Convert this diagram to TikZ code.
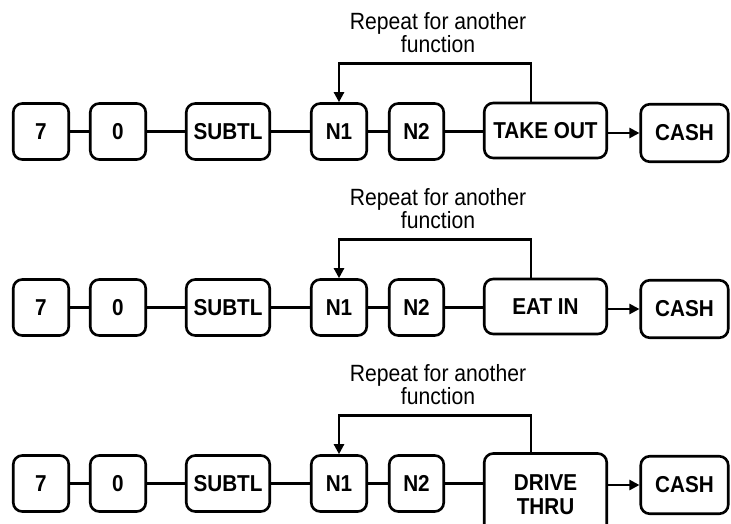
\documentclass[tikz,border=0pt]{standalone}
\usepackage{fontspec}
\setmainfont{Liberation Sans}[FakeStretch=0.9]
\usetikzlibrary{arrows.meta}
\tikzset{
  key/.style={draw, line width=2.6pt, rounded corners=9pt, inner sep=0pt,
    font=\bfseries\fontsize{23}{24}\selectfont, align=center,
    minimum height=56pt},
  link/.style={line width=2.3pt},
  flow/.style={line width=2.3pt, -{Triangle[length=10pt,width=10pt]}},
  note/.style={align=center, inner sep=0pt,
    font=\fontsize{23.5}{21}\selectfont},
}
\begin{document}
\begin{tikzpicture}[x=1pt,y=-1pt]
\useasboundingbox (0,0) rectangle (731,523);
\foreach \r/\dy/\lbl/\fy/\fh in {1/0/TAKE OUT/130.5/55,2/176/EAT IN/130.5/55,3/352/{DRIVE\\THRU}/143/83}{
  \begin{scope}[shift={(0,\dy)}]
    % key sequence
    \node[key, minimum width=55.5pt] (k7-\r)  at (41,131.5)   {7};
    \node[key, minimum width=55.5pt] (k0-\r)  at (118,131.5)  {0};
    \node[key, minimum width=83.5pt] (sub-\r) at (228,131.5)  {SUBTL};
    \node[key, minimum width=55.5pt] (n1-\r)  at (339,131.5)  {N1};
    \node[key, minimum width=54.5pt] (n2-\r)  at (416.5,131.5) {N2};
    \node[key, minimum width=122.5pt, minimum height=\fh pt] (fn-\r) at (545.5,\fy) {\lbl};
    \node[key, minimum width=87.5pt, minimum height=57.5pt] (cash-\r) at (684.5,133) {CASH};
    % plain links
    \draw[link] (k7-\r.east)  -- (k7-\r.east -| k0-\r.west);
    \draw[link] (k0-\r.east)  -- (k0-\r.east -| sub-\r.west);
    \draw[link] (sub-\r.east) -- (sub-\r.east -| n1-\r.west);
    \draw[link] (n1-\r.east)  -- (n1-\r.east -| n2-\r.west);
    \draw[link] (n2-\r.east)  -- (n2-\r.east -| fn-\r.west);
    % finalise with cash
    \draw[flow] (fn-\r.east |- cash-\r.west) -- (cash-\r.west);
    % repeat loop back to N1
    \coordinate (lp-\r) at (531,63.5);
    \draw[flow] (fn-\r.north -| lp-\r) -- (lp-\r) -| (n1-\r.north);
    \node[note] (rep-\r) at (438,33) {Repeat for another\\function};
  \end{scope}
}
\end{tikzpicture}
\end{document}
